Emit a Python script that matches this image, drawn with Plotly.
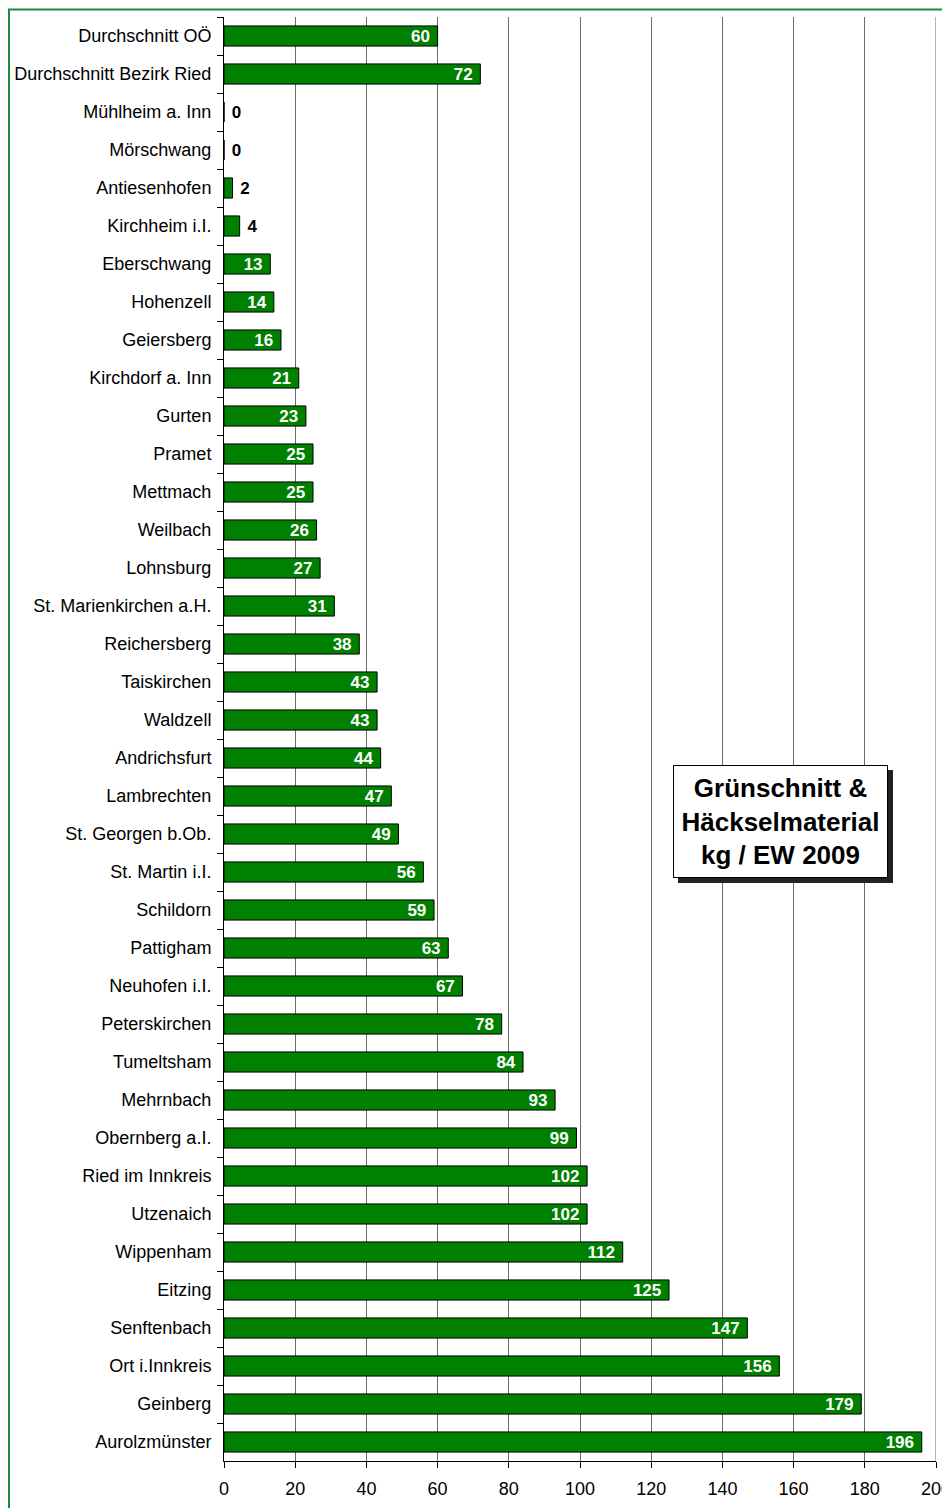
import plotly.graph_objects as go

categories = [
    "Durchschnitt OÖ", "Durchschnitt Bezirk Ried", "Mühlheim a. Inn", "Mörschwang",
    "Antiesenhofen", "Kirchheim i.I.", "Eberschwang", "Hohenzell", "Geiersberg",
    "Kirchdorf a. Inn", "Gurten", "Pramet", "Mettmach", "Weilbach", "Lohnsburg",
    "St. Marienkirchen a.H.", "Reichersberg", "Taiskirchen", "Waldzell", "Andrichsfurt",
    "Lambrechten", "St. Georgen b.Ob.", "St. Martin i.I.", "Schildorn", "Pattigham",
    "Neuhofen i.I.", "Peterskirchen", "Tumeltsham", "Mehrnbach", "Obernberg a.I.",
    "Ried im Innkreis", "Utzenaich", "Wippenham", "Eitzing", "Senftenbach",
    "Ort i.Innkreis", "Geinberg", "Aurolzmünster",
]
values = [
    60, 72, 0, 0, 2.4, 4.4, 13, 14, 16, 21, 23, 25, 25, 26, 27, 31, 38, 43, 43, 44,
    47, 49, 56, 59, 63, 67, 78, 84, 93, 99, 102, 102, 112, 125, 147, 156, 179, 196,
]
x_ticks = [0, 20, 40, 60, 80, 100, 120, 140, 160, 180, 200]
title_lines = ["Grünschnitt &", "Häckselmaterial", "kg / EW 2009"]

FONT = "Arial, Liberation Sans, sans-serif"
NB = "\u00a0"
labels = [("%d" % round(v) + NB) if v >= 10 else (NB + "%d" % round(v)) for v in values]
positions = ["inside" if v >= 10 else "outside" for v in values]

fig = go.Figure(go.Bar(
    x=values, y=categories, orientation="h",
    marker=dict(color="#008000", line=dict(color="#000000", width=1)),
    text=labels, textposition=positions, insidetextanchor="end", textangle=0,
    textfont=dict(family=FONT, size=17),
    insidetextfont=dict(family=FONT, size=17, color="white", weight="bold"),
    outsidetextfont=dict(family=FONT, size=17, color="black", weight="bold"),
    constraintext="none", cliponaxis=False,
))

# page is offset by the default 8px body margin
OFF = 8
W, H = 950 - OFF, 1508 - OFF
L, R, T, B = 224 - OFF, 14, 17 - OFF, 47
pw, ph = W - L - R, H - T - B

def px_x(px):  # page pixel -> paper
    return (px - OFF - L) / pw

def px_y(py):
    return 1 - (py - OFF - T) / ph

fig.update_layout(
    width=W, height=H,
    margin=dict(l=L, r=R, t=T, b=B, autoexpand=False),
    paper_bgcolor="white", plot_bgcolor="white",
    showlegend=False, bargap=0.47,
    font=dict(family=FONT, size=18, color="black"),
    xaxis=dict(
        range=[0, 200], tickvals=x_ticks, showgrid=True, gridcolor="#6a6a6a", gridwidth=1,
        showline=True, linecolor="black", linewidth=1, ticks="outside", ticklen=6,
        tickcolor="black", zeroline=False, tickfont=dict(size=18),
        ticklabeloverflow="allow", ticklabelstandoff=5,
    ),
    yaxis=dict(
        autorange="reversed", showline=True, linecolor="black", linewidth=1,
        ticks="outside", ticklen=6, tickcolor="black", tickson="boundaries",
        tickfont=dict(size=18), showgrid=False, ticklabelstandoff=8,
    ),
)

# gridline at the right edge (200)
fig.add_shape(type="line", xref="x", yref="paper", x0=200, x1=200, y0=0, y1=1,
              line=dict(color="#6a6a6a", width=1), layer="below")

# outer green frame (extends beyond the page on right/bottom)
fig.add_shape(type="rect", xref="paper", yref="paper",
              x0=px_x(9), x1=px_x(990), y0=px_y(1560), y1=px_y(9.5),
              line=dict(color="#1b8a42", width=2), fillcolor="rgba(0,0,0,0)", layer="above")

# shadow of title box
fig.add_shape(type="rect", xref="paper", yref="paper",
              x0=px_x(678), x1=px_x(893), y0=px_y(883), y1=px_y(770),
              line=dict(width=0), fillcolor="#222222", layer="above")

fig.add_annotation(
    xref="paper", yref="paper", x=px_x(780.5), y=px_y(821),
    xanchor="center", yanchor="middle", showarrow=False,
    text="<b>" + "<br>".join(title_lines) + "</b>",
    font=dict(family=FONT, size=26, color="black"),
    bgcolor="white", bordercolor="black", borderwidth=1, borderpad=2,
    width=209, height=107, align="center",
)

fig.write_html("out.html")
